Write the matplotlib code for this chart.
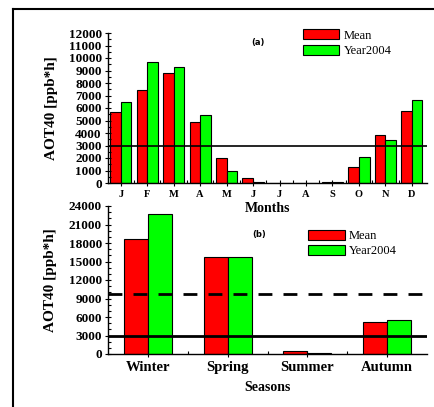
import matplotlib
matplotlib.use("Agg")
import matplotlib.pyplot as plt
from matplotlib.lines import Line2D
from matplotlib.ticker import MultipleLocator, FixedLocator
import numpy as np

months = ["J", "F", "M", "A", "M", "J", "J", "A", "S", "O", "N", "D"]
mean_month = [5650, 7430, 8830, 4880, 1970, 370, 0, 0, 80, 1280, 3810, 5760]
y2004_month = [6500, 9700, 9280, 5470, 960, 50, 0, 0, 50, 2050, 3410, 6640]

seasons = ["Winter", "Spring", "Summer", "Autumn"]
mean_season = [18700, 15700, 430, 5190]
y2004_season = [22760, 15700, 100, 5570]

threshold = 3000
threshold_season = 9700

RED = "#FF0000"
GREEN = "#00FF00"
serif = "Liberation Serif"
plt.rcParams["font.family"] = [serif, "DejaVu Serif"]

fig = plt.figure(figsize=(4.34, 4.07), dpi=100)

# outer frame lines
fig.add_artist(Line2D([0.03, 0.03], [0.0, 0.978], transform=fig.transFigure, color="black", lw=1.5))
fig.add_artist(Line2D([0.03, 1.0], [0.978, 0.978], transform=fig.transFigure, color="black", lw=1.5))

W, H = 434, 407
def rect(l, r, t, b):
    return [l / W, 1 - b / H, (r - l) / W, (b - t) / H]

def style_axes(ax):
    ax.patch.set_alpha(0)
    for s in ["top", "right"]:
        ax.spines[s].set_visible(False)
    for s in ["left", "bottom"]:
        ax.spines[s].set_linewidth(1.0)

# ---------------- panel (a) ----------------
ax1 = fig.add_axes(rect(108, 427, 33, 183))
style_axes(ax1)
x = np.arange(1, len(months) + 1)
ax1.bar(x - 0.2, mean_month, width=0.4, color=RED, edgecolor="black", linewidth=0.8, label="Mean")
ax1.bar(x + 0.2, y2004_month, width=0.4, color=GREEN, edgecolor="black", linewidth=0.8, label="Year2004")
ax1.axhline(threshold, color="black", lw=1.2)
ax1.set_xlim(0.52, 12.57)
ax1.set_ylim(0, 12000)
ax1.yaxis.set_major_locator(MultipleLocator(1000))
ax1.yaxis.set_minor_locator(MultipleLocator(500))
ax1.set_xticks(x)
ax1.set_xticklabels(months)
ax1.xaxis.set_minor_locator(FixedLocator(x[:-1] + 0.5))
ax1.tick_params(axis="y", which="major", direction="inout", length=5, width=0.8, labelsize=9.5, pad=2)
ax1.tick_params(axis="y", which="minor", direction="in", length=2.5, width=0.8)
ax1.tick_params(axis="x", which="major", direction="inout", length=4, width=0.8, labelsize=7.5, pad=3)
ax1.tick_params(axis="x", which="minor", direction="in", length=2.5, width=0.8)
for lab in ax1.get_yticklabels() + ax1.get_xticklabels():
    lab.set_fontweight("bold")
ax1.set_ylabel("AOT40 [ppb*h]", fontsize=11, fontweight="bold", labelpad=8)
ax1.set_xlabel("Months", fontsize=10, fontweight="bold", labelpad=2)
ax1.text(0.47, 0.94, "(a)", transform=ax1.transAxes, fontsize=6, fontweight="bold",
         family="DejaVu Sans", ha="center", va="center")
ax1.legend(loc="upper left", bbox_to_anchor=(0.612, 1.025), frameon=False, borderpad=0,
           borderaxespad=0, handlelength=2.9, handleheight=0.85, handletextpad=0.35,
           labelspacing=0.25, prop={"family": serif, "size": 9})

# ---------------- panel (b) ----------------
ax2 = fig.add_axes(rect(108, 427, 206, 354))
style_axes(ax2)
xs = np.arange(1, len(seasons) + 1)
ax2.bar(xs - 0.15, mean_season, width=0.3, color=RED, edgecolor="black", linewidth=0.8, label="Mean")
ax2.bar(xs + 0.15, y2004_season, width=0.3, color=GREEN, edgecolor="black", linewidth=0.8, label="Year2004")
ax2.axhline(threshold, color="black", lw=2.0)
ax2.axhline(threshold_season, color="black", lw=2.0, ls=(0, (5, 4)))
ax2.set_xlim(0.5, 4.5)
ax2.set_ylim(0, 24000)
ax2.yaxis.set_major_locator(MultipleLocator(3000))
ax2.yaxis.set_minor_locator(MultipleLocator(1000))
ax2.set_xticks(xs)
ax2.set_xticklabels(seasons)
ax2.xaxis.set_minor_locator(FixedLocator(xs[:-1] + 0.5))
ax2.tick_params(axis="y", which="major", direction="inout", length=5, width=0.8, labelsize=9.5, pad=2)
ax2.tick_params(axis="y", which="minor", direction="in", length=2.5, width=0.8)
ax2.tick_params(axis="x", which="major", direction="inout", length=4, width=0.8, labelsize=10.5, pad=3)
ax2.tick_params(axis="x", which="minor", direction="in", length=2.5, width=0.8)
for lab in ax2.get_yticklabels() + ax2.get_xticklabels():
    lab.set_fontweight("bold")
ax2.set_ylabel("AOT40 [ppb*h]", fontsize=11, fontweight="bold", labelpad=8)
ax2.set_xlabel("Seasons", fontsize=10, fontweight="bold", labelpad=5)
ax2.text(0.473, 0.81, "(b)", transform=ax2.transAxes, fontsize=6, fontweight="bold",
         family="DejaVu Sans", ha="center", va="center")
ax2.legend(loc="upper left", bbox_to_anchor=(0.628, 0.84), frameon=False, borderpad=0,
           borderaxespad=0, handlelength=2.9, handleheight=0.85, handletextpad=0.35,
           labelspacing=0.25, prop={"family": serif, "size": 9})

fig.savefig("out.png", dpi=100)
